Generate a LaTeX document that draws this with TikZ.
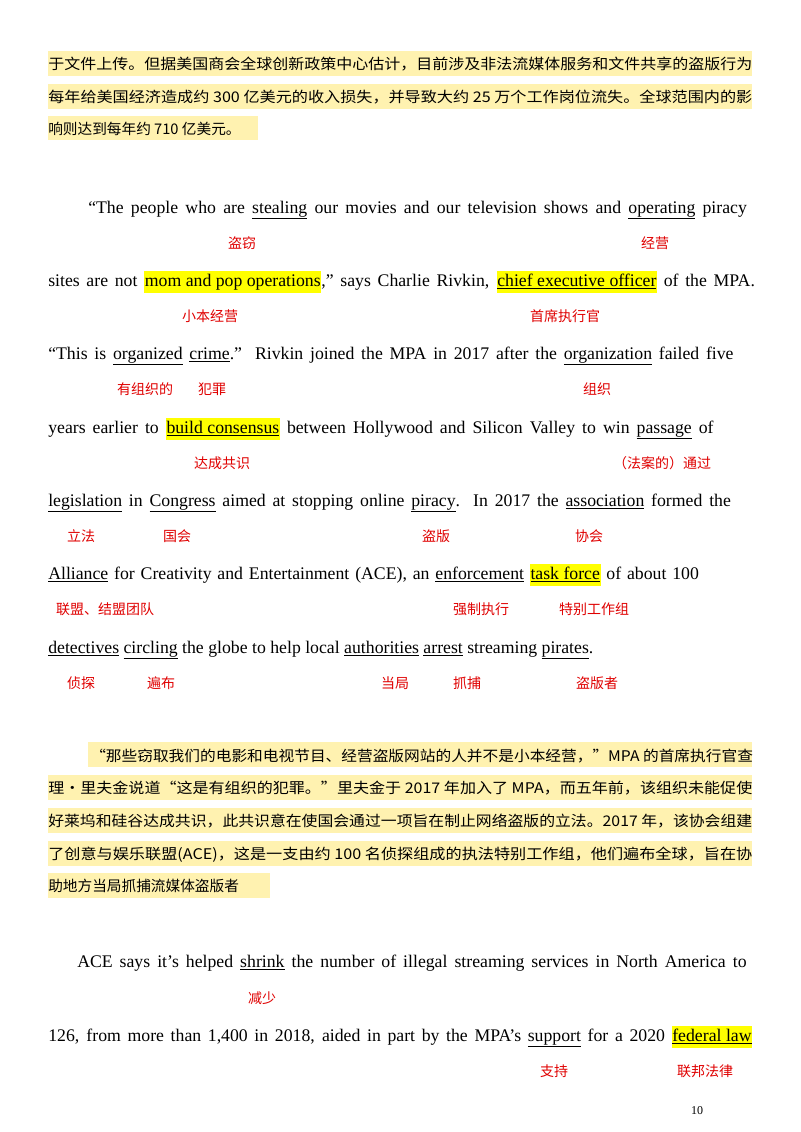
\documentclass[tikz,border=0pt]{standalone}
\usepackage{fontspec}
\usepackage{graphicx}
\setmainfont{Liberation Serif}
\newfontfamily\cjk{Noto Sans CJK SC}
\definecolor{hlpale}{HTML}{FFF2B0}
\definecolor{hlbright}{HTML}{FFFF00}
\definecolor{lblred}{HTML}{E00000}
\newcommand\hlY[1]{{\setlength\fboxsep{0.5pt}\colorbox{hlbright}{\strut #1}}}
\newcommand\ul[1]{\underline{#1}}
\tikzset{
  en/.style={anchor=base west,inner sep=0pt,font=\fontsize{13.3}{15}\selectfont},
  zh/.style={anchor=base west,inner sep=0pt,font=\cjk\fontsize{11}{12}\selectfont},
  lbl/.style={anchor=base,inner sep=0pt,text=lblred,font=\cjk\fontsize{10.5}{12}\selectfont},
  hlbar/.style={fill=hlpale,draw=none}
}
\newcommand\fw[2]{\resizebox{#1pt}{\height}{#2}}
\begin{document}
\begin{tikzpicture}[x=0.75pt,y=-0.75pt]
\useasboundingbox[fill=white] (0,0) rectangle (800,1132);
% paragraph 1 highlights
\fill[hlbar] (48,51) rectangle (752,76);
\fill[hlbar] (48,84) rectangle (752,109);
\fill[hlbar] (48,116) rectangle (258,140);
\node[zh] (p1a) at (48,69) {\fw{528}{于文件上传。但据美国商会全球创新政策中心估计，目前涉及非法流媒体服务和文件共享的盗版行为}};
\node[zh] (p1b) at (48,102) {\fw{528}{每年给美国经济造成约 300 亿美元的收入损失，并导致大约 25 万个工作岗位流失。全球范围内的影}};
\node[zh] (p1c) at (48,134) {响则达到每年约 710 亿美元。};
% English block 1
\node[en] (e1) at (88,213) {\makebox[494pt][s]{“The people who are \ul{stealing} our movies and our television shows and \ul{operating} piracy}};
\node[en] (e2) at (48,286) {\makebox[530pt][s]{sites are not \hlY{mom and pop operations}," says Charlie Rivkin, \hlY{\ul{chief executive officer}} of the MPA.}};
\node[en] (e3) at (48,359) {\makebox[514pt][s]{“This is \ul{organized} \ul{crime}.” Rivkin joined the MPA in 2017 after the \ul{organization} failed five}};
\node[en] (e4) at (48,433) {\makebox[499pt][s]{years earlier to \hlY{\ul{build consensus}} between Hollywood and Silicon Valley to win \ul{passage} of}};
\node[en] (e5) at (48,506) {\makebox[512pt][s]{\ul{legislation} in \ul{Congress} aimed at stopping online \ul{piracy}. In 2017 the \ul{association} formed the}};
\node[en] (e6) at (48,579) {\makebox[488pt][s]{\ul{Alliance} for Creativity and Entertainment (ACE), an \ul{enforcement} \hlY{\ul{task force}} of about 100}};
\node[en] (e7) at (48,653) {\ul{detectives} \ul{circling} the globe to help local \ul{authorities} \ul{arrest} streaming \ul{pirates}.};
% labels
\node[lbl] (l1) at (242,248) {盗窃};
\node[lbl] (l2) at (655,248) {经营};
\node[lbl] (l3) at (210,321) {小本经营};
\node[lbl] (l4) at (565,321) {首席执行官};
\node[lbl] (l5) at (145,394) {有组织的};
\node[lbl] (l6) at (212,394) {犯罪};
\node[lbl] (l7) at (597,394) {组织};
\node[lbl] (l8) at (222,468) {达成共识};
\node[lbl] (l9) at (662,468) {（法案的）通过};
\node[lbl] (l10) at (81,541) {立法};
\node[lbl] (l11) at (177,541) {国会};
\node[lbl] (l12) at (436,541) {盗版};
\node[lbl] (l13) at (589,541) {协会};
\node[lbl] (l14) at (105,614) {联盟、结盟团队};
\node[lbl] (l15) at (481,614) {强制执行};
\node[lbl] (l16) at (594,614) {特别工作组};
\node[lbl] (l17) at (81,688) {侦探};
\node[lbl] (l18) at (161,688) {遍布};
\node[lbl] (l19) at (395,688) {当局};
\node[lbl] (l20) at (467,688) {抓捕};
\node[lbl] (l21) at (597,688) {盗版者};
% paragraph 2 highlights
\fill[hlbar] (88,742) rectangle (752,767);
\fill[hlbar] (48,775) rectangle (752,800);
\fill[hlbar] (48,808) rectangle (752,833);
\fill[hlbar] (48,841) rectangle (752,866);
\fill[hlbar] (48,873) rectangle (270,898);
\node[zh] (p2a) at (90,761) {\fw{497}{“那些窃取我们的电影和电视节目、经营盗版网站的人并不是小本经营，”MPA 的首席执行官查}};
\node[zh] (p2b) at (48,793) {\fw{528}{理·里夫金说道“这是有组织的犯罪。”里夫金于 2017 年加入了 MPA，而五年前，该组织未能促使}};
\node[zh] (p2c) at (48,826) {\fw{528}{好莱坞和硅谷达成共识，此共识意在使国会通过一项旨在制止网络盗版的立法。2017 年，该协会组建}};
\node[zh] (p2d) at (48,859) {\fw{528}{了创意与娱乐联盟(ACE)，这是一支由约 100 名侦探组成的执法特别工作组，他们遍布全球，旨在协}};
\node[zh] (p2e) at (48,891) {助地方当局抓捕流媒体盗版者};
% English block 2
\node[en] (f1) at (77,967) {\makebox[502pt][s]{ACE says it's helped \ul{shrink} the number of illegal streaming services in North America to}};
\node[en] (f2) at (48,1041) {\makebox[528pt][s]{126, from more than 1,400 in 2018, aided in part by the MPA's \ul{support} for a 2020 \hlY{\ul{federal law}}}};
\node[lbl] (m1) at (262,1003) {减少};
\node[lbl] (m2) at (554,1076) {支持};
\node[lbl] (m3) at (705,1076) {联邦法律};
\node[anchor=base,inner sep=0pt,font=\fontsize{9}{10}\selectfont] (pg) at (697,1114) {10};
\end{tikzpicture}
\end{document}
